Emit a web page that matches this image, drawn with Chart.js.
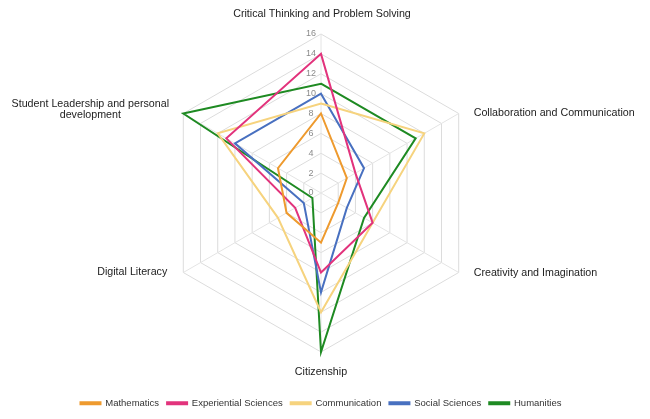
<!DOCTYPE html>
<html>
<head>
<meta charset="utf-8">
<script src="https://cdn.jsdelivr.net/npm/chart.js@4/dist/chart.umd.min.js"></script>
<style>
html,body{margin:0;padding:0;background:#fff;}
#wrap{width:650px;height:419px;position:relative;}
</style>
</head>
<body>
<div id="wrap"><canvas id="c"></canvas></div>
<script>
const categories = [
  "Critical Thinking and Problem Solving",
  "Collaboration and Communication",
  "Creativity and Imagination",
  "Citizenship",
  "Digital Literacy",
  ["Student Leadership and personal", "development"]
];
const mathematics = [8, 3, 2, 5, 4, 5];
const experientialSciences = [14, 4, 6, 8, 3, 11];
const communication = [9, 12, 6, 12, 5, 12];
const socialSciences = [10, 5, 3, 10, 2, 10];
const humanities = [11, 11, 5, 16, 1, 16];
const tickValues = [0, 2, 4, 6, 8, 10, 12, 14, 16];

function ds(label, data, color) {
  return {label, data, borderColor: color, backgroundColor: color, borderWidth: 2,
    fill: false, pointRadius: 0, pointHoverRadius: 0, tension: 0};
}

// label placement styles relative to each outer vertex: [dx, dy, align]
const labelStyle = [
  [1, -20, 'center'],
  [15, 0, 'left'],
  [15, 1, 'left'],
  [0, 20, 'center'],
  [-16, 0, 'right'],
  [-93, -4, 'center']
];

const textPlugin = {
  id: 'textLabels',
  beforeDatasetsDraw(chart) {
    const s = chart.scales.r;
    const ctx = chart.ctx;
    ctx.save();
    ctx.font = '9px "Liberation Sans"';
    ctx.fillStyle = '#8a8a8a';
    ctx.textAlign = 'center';
    ctx.textBaseline = 'middle';
    s.ticks.forEach(t => {
      const p = s.getPointPositionForValue(0, t.value);
      ctx.fillText(String(t.value), p.x - 10, p.y);
    });
    ctx.font = '10.7px "Liberation Sans"';
    ctx.fillStyle = '#222';
    chart.data.labels.forEach((lab, i) => {
      const p = s.getPointPosition(i, s.drawingArea);
      const st = labelStyle[i];
      const lines = Array.isArray(lab) ? lab : [lab];
      const lh = 10.5;
      const y0 = p.y + st[1] - (lines.length - 1) * lh / 2;
      ctx.textAlign = st[2];
      lines.forEach((ln, k) => ctx.fillText(ln, p.x + st[0], y0 + k * lh));
    });
    ctx.restore();
  }
};

new Chart(document.getElementById('c'), {
  type: 'radar',
  data: {
    labels: categories,
    datasets: [
      ds('Mathematics', mathematics, '#EE9A2E'),
      ds('Experiential Sciences', experientialSciences, '#E2337C'),
      ds('Communication', communication, '#F6D37E'),
      ds('Social Sciences', socialSciences, '#4870C0'),
      ds('Humanities', humanities, '#1E8A22')
    ]
  },
  options: {
    responsive: true,
    maintainAspectRatio: false,
    animation: false,
    layout: {padding: {top: 34, bottom: 1, left: 0, right: 8}},
    plugins: {
      legend: {
        position: 'bottom',
        title: {display: true, text: ' ', font: {size: 10}, padding: {top: 0, bottom: 24.6}},
        labels: {
          boxWidth: 20, boxHeight: 2, padding: 8,
          color: '#333',
          font: {family: '"Liberation Sans"', size: 9.5}
        }
      },
      tooltip: {enabled: false}
    },
    scales: {
      r: {
        min: 0, max: 16,
        afterBuildTicks(scale) { scale.ticks = tickValues.map(v => ({value: v})); },
        ticks: {display: false, stepSize: 2},
        grid: {color: '#dcdcdc', lineWidth: 1},
        angleLines: {color: '#e4e4e4', lineWidth: 1},
        pointLabels: {display: false}
      }
    }
  },
  plugins: [textPlugin]
});
</script>
</body>
</html>
